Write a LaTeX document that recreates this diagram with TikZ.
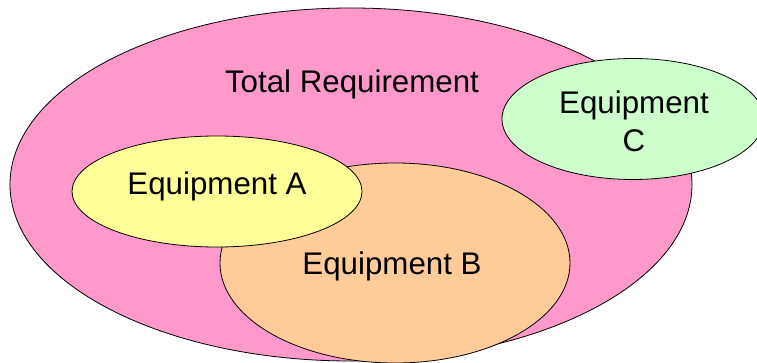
\documentclass[tikz,border=0pt]{standalone}
\usepackage{fontspec}
\setmainfont{Liberation Sans}
\usetikzlibrary{shapes.geometric}
\definecolor{pinkreq}{HTML}{FF99CC}
\definecolor{yelA}{HTML}{FFFF99}
\definecolor{orB}{HTML}{FFCC99}
\definecolor{grC}{HTML}{CCFFCC}
\begin{document}
\begin{tikzpicture}[x=1pt,y=1pt,
  blob/.style={ellipse,draw=black,line width=0.8pt,inner sep=0pt},
  lbl/.style={font=\fontsize{31.3}{38}\selectfont,align=center,inner sep=0pt}]
\useasboundingbox (0,0) rectangle (757,362);
\node[blob,fill=pinkreq,minimum width=682,minimum height=353] (tot) at (351,177.5) {};
\node[blob,fill=orB,minimum width=350,minimum height=200] (eqb) at (395,99) {};
\node[blob,fill=yelA,minimum width=290,minimum height=111] (eqa) at (217,170.5) {};
\node[blob,fill=grC,minimum width=262,minimum height=121] (eqc) at (633,243) {};
\node[lbl] (ttot) at (352,278) {Total Requirement};
\node[lbl] (ta) at (217,176) {Equipment A};
\node[lbl] (tb) at (392,96) {Equipment B};
\node[lbl] (tc) at (634,241) {Equipment\\C};
\end{tikzpicture}
\end{document}
